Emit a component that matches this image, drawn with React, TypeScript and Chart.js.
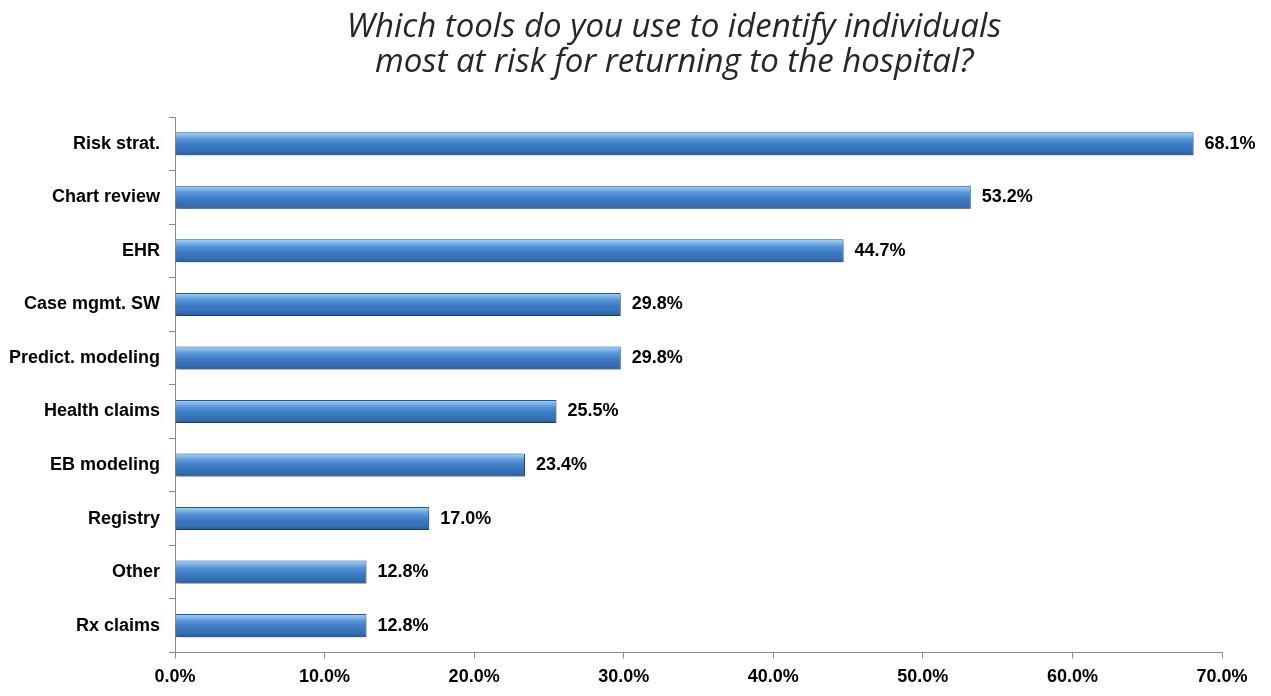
import React, { useEffect, useRef } from "react";
import { Chart, registerables } from "chart.js";

Chart.register(...registerables);

const categories = [
  "Risk strat.",
  "Chart review",
  "EHR",
  "Case mgmt. SW",
  "Predict. modeling",
  "Health claims",
  "EB modeling",
  "Registry",
  "Other",
  "Rx claims",
];
const values = [68.1, 53.2, 44.7, 29.8, 29.8, 25.5, 23.4, 17.0, 12.8, 12.8];
const titleLines = [
  "Which tools do you use to identify individuals",
  "most at risk for returning to the hospital?",
];
const xMin = 0;
const xMax = 70;
const xStep = 10;

const LABEL_FONT = "'Liberation Sans', Arial, sans-serif";

const titlePlugin = {
  id: "customTitle",
  afterDraw(chart: any) {
    const ctx = chart.ctx;
    ctx.save();
    ctx.font = "italic 400 33px 'Open Sans', sans-serif";
    ctx.fillStyle = "#262626";
    ctx.textAlign = "center";
    ctx.textBaseline = "alphabetic";
    const cx = chart.width * 0.5308;
    titleLines.forEach((line, i) => {
      ctx.fillText(line, cx, 29 + i * 35);
    });
    ctx.restore();
  },
};

const shadowPlugin = {
  id: "barShadow",
  beforeDatasetsDraw(chart: any) {
    const ctx = chart.ctx;
    ctx.save();
    ctx.shadowColor = "rgba(0,0,0,0.35)";
    ctx.shadowBlur = 4;
    ctx.shadowOffsetX = 1;
    ctx.shadowOffsetY = 3;
  },
  afterDatasetsDraw(chart: any) {
    chart.ctx.restore();
  },
};

const valueLabelPlugin = {
  id: "valueLabels",
  afterDatasetsDraw(chart: any) {
    const ctx = chart.ctx;
    const meta = chart.getDatasetMeta(0);
    ctx.save();
    ctx.font = `bold 18px ${LABEL_FONT}`;
    ctx.fillStyle = "#000";
    ctx.textAlign = "left";
    ctx.textBaseline = "middle";
    meta.data.forEach((el: any, i: number) => {
      ctx.fillText(values[i].toFixed(1) + "%", el.x + 11, el.y);
    });
    ctx.restore();
  },
};

export default function App() {
  const canvasRef = useRef<HTMLCanvasElement | null>(null);

  useEffect(() => {
    if (!canvasRef.current) return;
    const chart = new Chart(canvasRef.current, {
      type: "bar",
      data: {
        labels: categories,
        datasets: [
          {
            data: values,
            backgroundColor: (c: any) => {
              const chart = c.chart;
              const ys = chart.scales && chart.scales.y;
              if (!ys || c.dataIndex === undefined) return "#3f7cc4";
              const cy = ys.getPixelForValue(c.dataIndex);
              if (!Number.isFinite(cy)) return "#3f7cc4";
              const h = 11.5;
              const g = chart.ctx.createLinearGradient(0, cy - h, 0, cy + h);
              g.addColorStop(0, "#a9d4f6");
              g.addColorStop(0.12, "#86bdee");
              g.addColorStop(0.3, "#5896d8");
              g.addColorStop(0.55, "#3d7bc4");
              g.addColorStop(0.85, "#346eb3");
              g.addColorStop(1, "#285791");
              return g;
            },
            borderColor: "#2a5892",
            borderWidth: 1,
            barPercentage: 0.43,
            categoryPercentage: 1,
          },
        ],
      },
      options: {
        indexAxis: "y",
        animation: false,
        responsive: true,
        maintainAspectRatio: false,
        layout: { padding: { top: 109, right: 41, left: 0, bottom: 0 } },
        plugins: {
          legend: { display: false },
          title: { display: false },
          tooltip: { enabled: false },
        },
        scales: {
          x: {
            min: xMin,
            max: xMax,
            ticks: {
              stepSize: xStep,
              padding: 8,
              color: "#000",
              font: { family: LABEL_FONT, size: 18, weight: "bold" },
              callback: (v: any) => Number(v).toFixed(1) + "%",
            },
            grid: {
              drawOnChartArea: false,
              drawTicks: true,
              tickLength: 6,
              color: "#8c8c8c",
            },
            border: { color: "#8c8c8c", width: 1 },
          },
          y: {
            afterFit: (scale: any) => {
              scale.width = 167;
            },
            ticks: {
              padding: 9,
              color: "#000",
              font: { family: LABEL_FONT, size: 18, weight: "bold" },
            },
            grid: {
              drawOnChartArea: false,
              drawTicks: true,
              tickLength: 6,
              color: "#8c8c8c",
              offset: true,
            },
            border: { color: "#8c8c8c", width: 1 },
          },
        },
      },
      plugins: [shadowPlugin, valueLabelPlugin, titlePlugin],
    });
    return () => chart.destroy();
  }, []);

  return (
    <div style={{ position: "relative", width: "100%", height: 688 }}>
      <canvas ref={canvasRef} />
    </div>
  );
}
